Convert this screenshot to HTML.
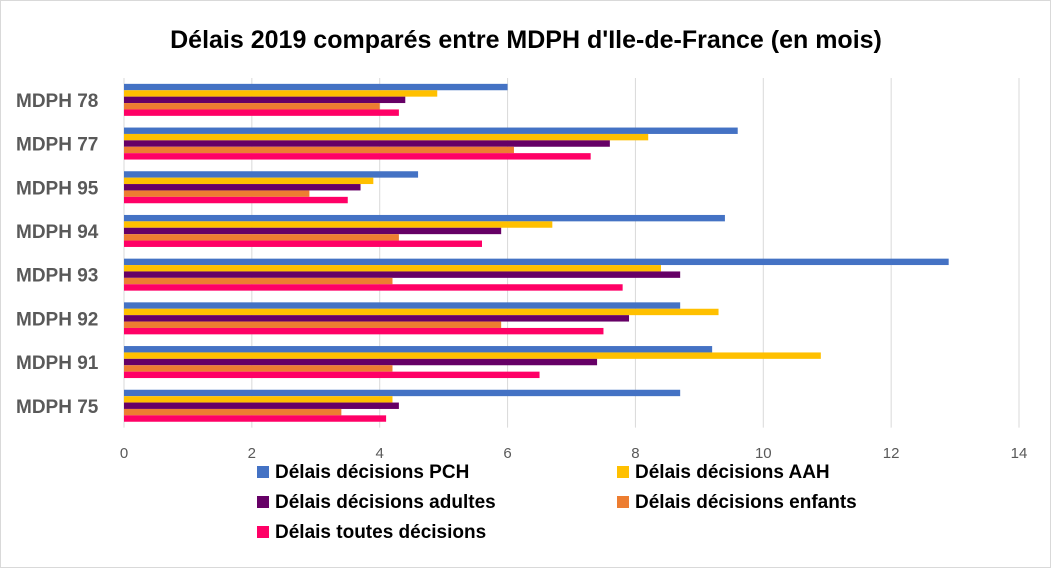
<!DOCTYPE html>
<html><head><meta charset="utf-8"><style>
body{margin:0;background:#fff;}
svg{display:block;font-family:"Liberation Sans",sans-serif;}
</style></head><body>
<svg width="1051" height="568">
<rect x="0.5" y="0.5" width="1050" height="567" fill="#fff" stroke="#d9d9d9"/>
<text x="526" y="48" text-anchor="middle" font-size="25" font-weight="bold" fill="#000">Délais 2019 comparés entre MDPH d'Ile-de-France (en mois)</text>
<g id="grid"></g><g id="bars"></g><g id="ylab"></g><g id="xlab"></g><g id="legend"></g>
</svg>
<script>
const categories=["MDPH 78","MDPH 77","MDPH 95","MDPH 94","MDPH 93","MDPH 92","MDPH 91","MDPH 75"];
const seriesNames=["Délais décisions PCH","Délais décisions AAH","Délais décisions adultes","Délais décisions enfants","Délais toutes décisions"];
const pch=[6.0,9.6,4.6,9.4,12.9,8.7,9.2,8.7];
const aah=[4.9,8.2,3.9,6.7,8.4,9.3,10.9,4.2];
const adultes=[4.4,7.6,3.7,5.9,8.7,7.9,7.4,4.3];
const enfants=[4.0,6.1,2.9,4.3,4.2,5.9,4.2,3.4];
const toutes=[4.3,7.3,3.5,5.6,7.8,7.5,6.5,4.1];
const xTicks=[0,2,4,6,8,10,12,14];
const series=[pch,aah,adultes,enfants,toutes];
const colors=["#4472C4","#FFC000","#660066","#ED7D31","#FF0066"];
const NS="http://www.w3.org/2000/svg";
const x0=124,x1=1019,plotTop=78,band=43.7,barH=6.4,pad=5.85;
const xs=v=>x0+v/14*(x1-x0);
function mk(t,a,p){const e=document.createElementNS(NS,t);for(const k in a)e.setAttribute(k,a[k]);document.getElementById(p).appendChild(e);return e;}
xTicks.forEach(t=>{
 const l=mk('line',{x1:xs(t),x2:xs(t),y1:plotTop,y2:plotTop+8*band,stroke:'#d9d9d9','stroke-width':1},'grid');
 
 
 const tx=mk('text',{x:xs(t),y:458,'text-anchor':'middle','font-size':15,fill:'#595959'},'xlab');
 tx.textContent=t;
 
 
});
categories.forEach((c,i)=>{
 const y=plotTop+i*band;
 const tx=mk('text',{x:16,y:y+band/2+7,'font-size':19,'font-weight':'bold',fill:'#595959'},'ylab');
 tx.textContent=c;
 
 
 series.forEach((s,j)=>{
  const r=mk('rect',{x:x0,y:y+pad+j*barH,width:xs(s[i])-x0,height:barH,fill:colors[j]},'bars');
  
  
 });
});
const ly=[478,508,538];
const pos=[[257,ly[0]],[617,ly[0]],[257,ly[1]],[617,ly[1]],[257,ly[2]]];
seriesNames.forEach((n,j)=>{
 const [lx,yy]=pos[j];
 const r=mk('rect',{x:lx,y:yy-12,width:12,height:12,fill:colors[j]},'legend');
 
 
 const t=mk('text',{x:lx+18,y:yy,'font-size':19,'font-weight':'bold',fill:'#000'},'legend');
 t.textContent=n;
 
 
});
</script>
</body></html>
